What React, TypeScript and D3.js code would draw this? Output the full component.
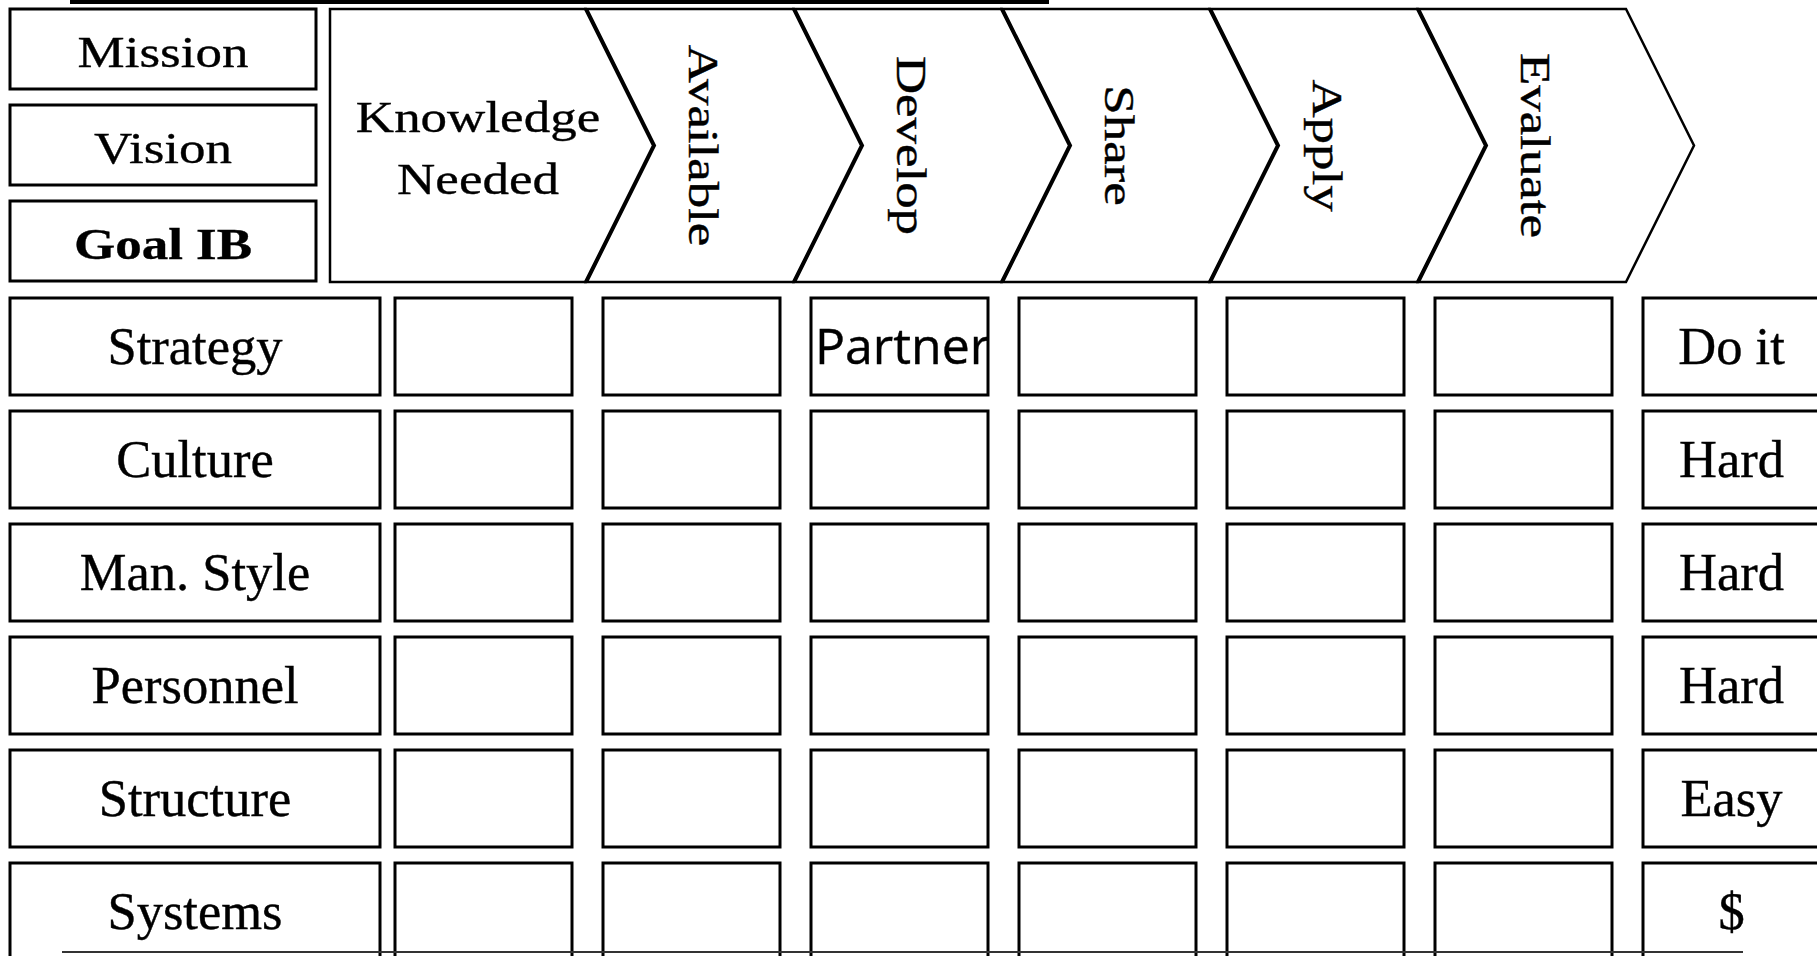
import React from "react";
import * as d3 from "d3";

// labels
const purposeLabels = ["Mission", "Vision", "Goal IB"];
const firstStepLines = ["Knowledge", "Needed"];
const stageLabels = ["Available", "Develop", "Share", "Apply", "Evaluate"];
const columnKeys = ["Knowledge Needed", ...stageLabels, "Difficulty"];
const factorLabels = ["Strategy", "Culture", "Man. Style", "Personnel", "Structure", "Systems"];
const difficultyLabels = ["Do it", "Hard", "Hard", "Hard", "Easy", "$"];
const cellNotes = [{ factor: "Strategy", column: "Develop", text: "Partner" }];

const W = 1817;
const H = 956;
const serif = "'Liberation Serif', 'Times New Roman', serif";

// header geometry
const headTop = 9;
const headBottom = 282;
const headMid = (headTop + headBottom) / 2;
const tip = 68;
const headLeft = 330;

const rowScale = d3.scaleBand<string>().domain(factorLabels).range([298, 960]).paddingInner(16 / 113);
const colScale = d3.scaleBand<string>().domain(columnKeys).range([395, 1820]).paddingInner(31 / 208);
const purposeScale = d3.scaleBand<string>().domain(purposeLabels).range([9, 281]).paddingInner(16 / 96);
const boundary = d3.scaleLinear().domain([0, stageLabels.length]).range([586, 1626]);

const line = d3.line<[number, number]>();

function stagePath(i: number) {
  const b0 = boundary(i);
  const b1 = boundary(i + 1);
  return line([
    [b0, headTop],
    [b1, headTop],
    [b1 + tip, headMid],
    [b1, headBottom],
    [b0, headBottom],
    [b0 + tip, headMid],
  ]) + "Z";
}

function notchPath(i: number) {
  const b = boundary(i);
  return line([
    [b, headTop],
    [b + tip, headMid],
    [b, headBottom],
  ]);
}

const firstPath =
  line([
    [headLeft, headTop],
    [boundary(0), headTop],
    [boundary(0) + tip, headMid],
    [boundary(0), headBottom],
    [headLeft, headBottom],
  ]) + "Z";

// scanned look: a hair of stroke on the glyphs
const ink = { stroke: "#000", strokeWidth: 0.4 };

export default function App() {
  const bw = rowScale.bandwidth();
  const cw = colScale.bandwidth();
  const pw = purposeScale.bandwidth();
  return (
    <svg
      width={W}
      height={H}
      style={{ position: "fixed", left: 0, top: 0, background: "#fff" }}
    >
      <defs>
        {cellNotes.map((n, i) => (
          <clipPath id={"note" + i} key={i}>
            <rect x={colScale(n.column)!} y={rowScale(n.factor)!} width={cw} height={bw} />
          </clipPath>
        ))}
      </defs>
      <rect width={W} height={H} fill="#fff" />

      {/* mission / vision / goal boxes */}
      {purposeLabels.map((d) => (
        <g key={d}>
          <rect x={10} y={purposeScale(d)!} width={306} height={pw} fill="#fff" stroke="#000" strokeWidth={3} />
          <text
            transform={`translate(163,${purposeScale(d)! + pw / 2 + 18}) scale(1,0.84)`}
            textAnchor="middle"
            fontFamily={serif}
            fontSize={53}
            fontWeight={d === "Goal IB" ? "bold" : "normal"}
            {...ink}
          >
            {d}
          </text>
        </g>
      ))}

      {/* process chevrons */}
      <path d={firstPath} fill="#fff" stroke="#000" strokeWidth={2.5} />
      {stageLabels.map((d, i) => (
        <path key={d} d={stagePath(i)} fill="#fff" stroke="#000" strokeWidth={2.5} strokeLinejoin="miter" />
      ))}
      {stageLabels.map((d, i) => (
        <path key={"n" + d} d={notchPath(i)!} fill="none" stroke="#000" strokeWidth={4} />
      ))}
      {firstStepLines.map((t, i) => (
        <text
          key={t}
          transform={`translate(478,${headMid - 14 + i * 62}) scale(1,0.84)`}
          textAnchor="middle"
          fontFamily={serif}
          fontSize={53}
          {...ink}
        >
          {t}
        </text>
      ))}
      {stageLabels.map((d, i) => (
        <text
          key={"t" + d}
          transform={`translate(${boundary(i) + 103},${headMid}) rotate(90) scale(1.23,1)`}
          textAnchor="middle"
          fontFamily={serif}
          fontSize={43}
          {...ink}
        >
          {d}
        </text>
      ))}

      {/* factor rows */}
      {factorLabels.map((f, r) => {
        const y = rowScale(f)!;
        return (
          <g key={f}>
            <rect x={10} y={y} width={370} height={bw} fill="#fff" stroke="#000" strokeWidth={3} />
            <text x={195} y={y + bw / 2 + 17} textAnchor="middle" fontFamily={serif} fontSize={52.5} {...ink}>
              {f}
            </text>
            {columnKeys.map((c) => (
              <rect key={c} x={colScale(c)!} y={y} width={cw} height={bw} fill="#fff" stroke="#000" strokeWidth={3} />
            ))}
            <text
              x={colScale("Difficulty")! + cw / 2}
              y={y + bw / 2 + 17}
              textAnchor="middle"
              fontFamily={serif}
              fontSize={52.5}
              {...ink}
            >
              {difficultyLabels[r]}
            </text>
          </g>
        );
      })}

      {cellNotes.map((n, i) => (
        <text
          key={i}
          clipPath={`url(#note${i})`}
          x={colScale(n.column)! + 4}
          y={rowScale(n.factor)! + bw / 2 + 17}
          fontFamily="'Open Sans', 'Noto Sans', sans-serif"
          fontSize={50}
          {...ink}
        >
          {n.text}
        </text>
      ))}

      {/* rule lines of the page, over everything */}
      <line x1={70} x2={1049} y1={2} y2={2} stroke="#000" strokeWidth={4} />
      <line x1={62} x2={1743} y1={952} y2={952} stroke="#333" strokeWidth={2} />
    </svg>
  );
}
